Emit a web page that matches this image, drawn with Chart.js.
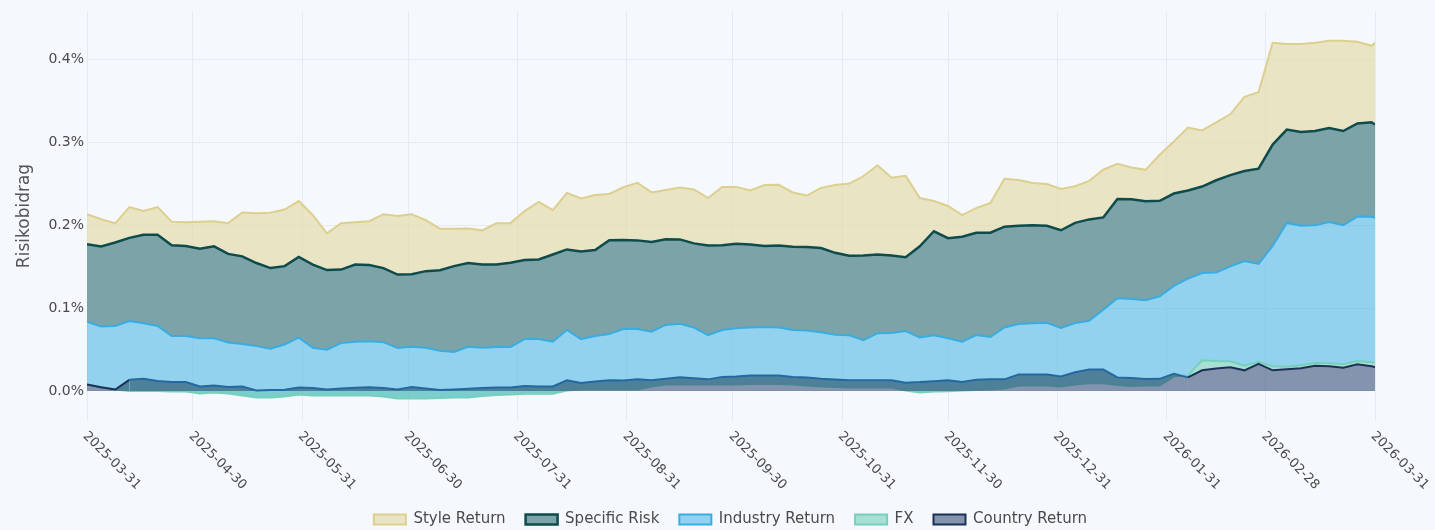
<!DOCTYPE html>
<html>
<head>
<meta charset="utf-8">
<script src="https://cdn.jsdelivr.net/npm/chart.js@4.4.1/dist/chart.umd.min.js"></script>
<style>
  html, body { margin: 0; padding: 0; background: #F5F8FC; overflow: hidden; }
  #wrap { width: 1435px; height: 537px; }
</style>
</head>
<body>
<div id="wrap"><canvas id="risk-chart" width="1435" height="537"></canvas></div>
<script>
const dates = [
  '2025-03-31','2025-04-04','2025-04-08','2025-04-12','2025-04-16','2025-04-20','2025-04-24','2025-04-28',
  '2025-05-02','2025-05-06','2025-05-10','2025-05-14','2025-05-18','2025-05-22','2025-05-26','2025-05-30',
  '2025-06-03','2025-06-07','2025-06-11','2025-06-15','2025-06-19','2025-06-23','2025-06-27',
  '2025-07-01','2025-07-05','2025-07-09','2025-07-13','2025-07-17','2025-07-21','2025-07-25','2025-07-29',
  '2025-08-02','2025-08-06','2025-08-10','2025-08-14','2025-08-18','2025-08-22','2025-08-26','2025-08-30',
  '2025-09-03','2025-09-07','2025-09-11','2025-09-15','2025-09-19','2025-09-23','2025-09-27',
  '2025-10-01','2025-10-05','2025-10-09','2025-10-13','2025-10-17','2025-10-21','2025-10-25','2025-10-29',
  '2025-11-02','2025-11-06','2025-11-10','2025-11-14','2025-11-18','2025-11-22','2025-11-26','2025-11-30',
  '2025-12-04','2025-12-08','2025-12-12','2025-12-16','2025-12-20','2025-12-24','2025-12-28',
  '2026-01-01','2026-01-05','2026-01-09','2026-01-13','2026-01-17','2026-01-21','2026-01-25','2026-01-29',
  '2026-02-02','2026-02-06','2026-02-10','2026-02-14','2026-02-18','2026-02-22','2026-02-26',
  '2026-03-02','2026-03-06','2026-03-10','2026-03-14','2026-03-18','2026-03-22','2026-03-26','2026-03-30','2026-03-31'
];

// Contributions in percent, stacked bottom to top
const countryReturn = [
  0.0079,0.0046,0.0018,0.0134,0.0148,0.0119,0.0109,0.0107,0.0055,0.0067,0.0049,0.0055,0.0006,0.0012,0.0015,0.0043,
  0.0036,0.0018,0.0030,0.0039,0.0046,0.0036,0.0018,0.0049,0.0030,0.0012,0.0018,0.0027,0.0036,0.0043,0.0043,
  0.0061,0.0055,0.0055,0.0128,0.0095,0.0115,0.0128,0.0125,0.0142,0.0128,0.0146,0.0164,0.0152,0.0140,0.0170,
  0.0176,0.0186,0.0188,0.0188,0.0168,0.0164,0.0147,0.0137,0.0128,0.0128,0.0128,0.0128,0.0100,0.0107,0.0118,0.0128,
  0.0107,0.0136,0.0140,0.0140,0.0200,0.0200,0.0200,0.0176,0.0225,0.0258,0.0258,0.0164,0.0157,0.0145,0.0146,
  0.0207,0.0164,0.0249,0.0270,0.0286,0.0249,0.0328,0.0249,0.0261,0.0273,0.0304,0.0298,0.0279,0.0322,0.0298,0.0289
];
const fxReturn = [
  0,0,0,-0.0134,-0.0148,-0.0119,-0.0115,-0.0113,-0.0085,-0.0085,-0.0079,-0.0109,-0.0085,-0.0091,-0.0081,-0.0085,
  -0.0091,-0.0073,-0.0085,-0.0094,-0.0101,-0.0103,-0.0109,-0.0140,-0.0122,-0.0097,-0.0097,-0.0106,-0.0097,-0.0091,-0.0085,
  -0.0095,-0.0089,-0.0089,-0.0122,-0.0077,-0.0097,-0.0109,-0.0107,-0.0124,-0.0073,-0.0067,-0.0085,-0.0073,-0.0061,-0.0091,
  -0.0097,-0.0101,-0.0103,-0.0103,-0.0089,-0.0097,-0.0092,-0.0089,-0.0085,-0.0085,-0.0085,-0.0085,-0.0094,-0.0125,-0.0124,-0.0130,
  -0.0101,-0.0124,-0.0122,-0.0109,-0.0134,-0.0134,-0.0134,-0.0122,-0.0146,-0.0166,-0.0166,-0.0091,-0.0096,-0.0078,-0.0079,
  -0.0030,0.0024,0.0122,0.0092,0.0073,0.0055,0.0024,0.0049,0.0030,0.0036,0.0036,0.0036,0.0043,0.0040,0.0049,0.0051
];
const industryReturn = [
  0.0757,0.0731,0.0765,0.0844,0.0816,0.0784,0.0668,0.0668,0.0665,0.0653,0.0614,0.0620,0.0620,0.0589,0.0626,0.0686,
  0.0577,0.0553,0.0632,0.0650,0.0656,0.0656,0.0608,0.0623,0.0614,0.0571,0.0550,0.0611,0.0583,0.0577,0.0571,
  0.0660,0.0660,0.0629,0.0729,0.0608,0.0644,0.0668,0.0729,0.0729,0.0660,0.0717,0.0731,0.0686,0.0595,0.0656,
  0.0677,0.0680,0.0686,0.0680,0.0656,0.0662,0.0653,0.0629,0.0628,0.0571,0.0653,0.0656,0.0717,0.0662,0.0677,0.0637,
  0.0589,0.0662,0.0632,0.0735,0.0741,0.0751,0.0757,0.0705,0.0741,0.0753,0.0887,0.1044,0.1049,0.1026,0.1075,
  0.1090,0.1166,0.1051,0.1068,0.1143,0.1264,0.1181,0.1450,0.1735,0.1684,0.1659,0.1704,0.1676,0.1740,0.1756,0.1744
];
const specificRisk = [
  0.0932,0.0966,0.1008,0.1002,0.1067,0.1100,0.1094,0.1087,0.1079,0.1109,0.1069,0.1057,0.1002,0.0972,0.0945,0.0972,
  0.1002,0.0960,0.0887,0.0929,0.0917,0.0893,0.0887,0.0877,0.0923,0.0970,0.1035,0.1011,0.1002,0.0996,0.1017,
  0.0954,0.0960,0.1051,0.0972,0.1057,0.1039,0.1130,0.1073,0.1069,0.1081,0.1033,0.1018,0.1015,0.1081,0.1021,
  0.1018,0.1002,0.0978,0.0990,0.1005,0.1008,0.1016,0.0989,0.0960,0.1021,0.0951,0.0936,0.0889,0.1100,0.1255,0.1207,
  0.1264,0.1233,0.1258,0.1215,0.1185,0.1181,0.1169,0.1179,0.1207,0.1224,0.1114,0.1198,0.1202,0.1194,0.1152,
  0.1114,0.1063,0.1043,0.1111,0.1101,0.1085,0.1148,0.1224,0.1126,0.1131,0.1136,0.1132,0.1137,0.1124,0.1136,0.1130
];
const styleReturn = [
  0.0365,0.0328,0.0231,0.0371,0.0289,0.0334,0.0286,0.0286,0.0326,0.0304,0.0371,0.0529,0.0601,0.0668,0.0683,0.0674,
  0.0595,0.0443,0.0559,0.0510,0.0529,0.0650,0.0705,0.0723,0.0614,0.0501,0.0450,0.0416,0.0413,0.0498,0.0478,
  0.0589,0.0693,0.0535,0.0680,0.0638,0.0662,0.0559,0.0637,0.0693,0.0598,0.0595,0.0626,0.0650,0.0571,0.0705,
  0.0687,0.0650,0.0735,0.0733,0.0654,0.0620,0.0725,0.0818,0.0870,0.0954,0.1075,0.0936,0.0982,0.0583,0.0365,0.0389,
  0.0261,0.0298,0.0358,0.0577,0.0553,0.0510,0.0504,0.0498,0.0442,0.0465,0.0575,0.0425,0.0383,0.0380,0.0555,
  0.0627,0.0759,0.0677,0.0697,0.0733,0.0895,0.0921,0.1227,0.1033,0.1061,0.1063,0.1052,0.1087,0.0984,0.0923,0.0984
];

// Axis ticks
const tickLabels = [
  '2025-03-31','2025-04-30','2025-05-31','2025-06-30','2025-07-31','2025-08-31','2025-09-30',
  '2025-10-31','2025-11-30','2025-12-31','2026-01-31','2026-02-28','2026-03-31'
];
const yTicks = [0, 0.1, 0.2, 0.3, 0.4];

const FONT = '"DejaVu Sans", sans-serif';
const TEXT = '#4a4a4a';
const GRID = '#E6EBF2';
const START = Date.parse(dates[0]);

// days since first date, used as the linear x value
function dayOf(d) {
  return Math.round((Date.parse(d) - START) / 86400000);
}

const tickDays = tickLabels.map(dayOf);

function toPoints(values) {
  return dates.map((d, i) => ({ x: dayOf(d), y: values[i] }));
}

// Rotated date labels under the x axis (running down to the right)
const dateTickLabels = {
  id: 'dateTickLabels',
  afterDraw(chart) {
    const { ctx, chartArea } = chart;
    const xScale = chart.scales.x;
    ctx.save();
    ctx.font = '13px ' + FONT;
    ctx.fillStyle = TEXT;
    ctx.textAlign = 'left';
    ctx.textBaseline = 'middle';
    tickLabels.forEach((label, i) => {
      const px = xScale.getPixelForValue(tickDays[i]);
      ctx.save();
      ctx.translate(px - 2, chartArea.bottom + 14);
      ctx.rotate(Math.PI / 4);
      ctx.fillText(label, 0, 0);
      ctx.restore();
    });
    ctx.restore();
  }
};

const common = { pointRadius: 0, pointHoverRadius: 0, tension: 0, borderWidth: 2 };

new Chart(document.getElementById('risk-chart'), {
  type: 'line',
  data: {
    datasets: [{
      ...common,
      label: 'Country Return',
      data: toPoints(countryReturn),
      borderColor: '#1C3156',
      backgroundColor: 'rgba(40, 65, 110, 0.55)',
      fill: 'origin',
      segment: {
        // under the industry band the line shows through blue
        borderColor: c => fxReturn[c.p0DataIndex] < 0 ? '#2468A0' : '#1C3156'
      }
    }, {
      ...common,
      label: 'FX',
      data: toPoints(fxReturn),
      borderColor: '#74D0BA',
      backgroundColor: 'rgba(105, 200, 178, 0.55)',
      fill: '-1'
    }, {
      ...common,
      label: 'Industry Return',
      data: toPoints(industryReturn),
      borderColor: '#38ADE2',
      backgroundColor: 'rgba(58, 175, 226, 0.52)',
      fill: '-1'
    }, {
      ...common,
      label: 'Specific Risk',
      data: toPoints(specificRisk),
      borderColor: '#0E4B4D',
      backgroundColor: '#7CA3A8',
      borderWidth: 2.5,
      fill: '-1'
    }, {
      ...common,
      label: 'Style Return',
      data: toPoints(styleReturn),
      borderColor: '#DCCF90',
      backgroundColor: 'rgba(226, 216, 160, 0.62)',
      fill: '-1'
    }]
  },
  options: {
    responsive: false,
    animation: false,
    // left padding centres the legend under the plot
    layout: { padding: { top: 12, left: 26, right: 0, bottom: 0 } },
    plugins: {
      tooltip: { enabled: false },
      legend: {
        position: 'bottom',
        reverse: true,
        labels: {
          boxWidth: 32,
          boxHeight: 10,
          padding: 20,
          color: TEXT,
          font: { size: 15, family: FONT }
        }
      }
    },
    scales: {
      x: {
        type: 'linear',
        min: 0,
        max: 365,
        afterBuildTicks: axis => { axis.ticks = tickDays.map(v => ({ value: v })); },
        afterFit: axis => { axis.height = 72; },
        grid: { color: GRID, drawTicks: false },
        border: { display: false },
        ticks: { display: false }
      },
      y: {
        stacked: 'single',
        min: -0.035,
        max: 0.457,
        afterBuildTicks: axis => { axis.ticks = yTicks.map(v => ({ value: v })); },
        afterFit: axis => { axis.width = 61; },
        grid: { color: GRID, drawTicks: false },
        border: { display: false },
        ticks: {
          padding: 3,
          color: TEXT,
          font: { size: 14, family: FONT },
          callback: v => v.toFixed(1) + '%'
        },
        title: {
          display: true,
          text: 'Risikobidrag',
          color: '#555',
          font: { size: 17, family: FONT },
          padding: { top: -12, bottom: 0 }
        }
      },
      y2: {
        position: 'right',
        min: 0,
        max: 1,
        afterFit: axis => { axis.width = 60; },
        grid: { display: false },
        border: { display: false },
        ticks: { display: false }
      }
    }
  },
  plugins: [dateTickLabels]
});
</script>
</body>
</html>
